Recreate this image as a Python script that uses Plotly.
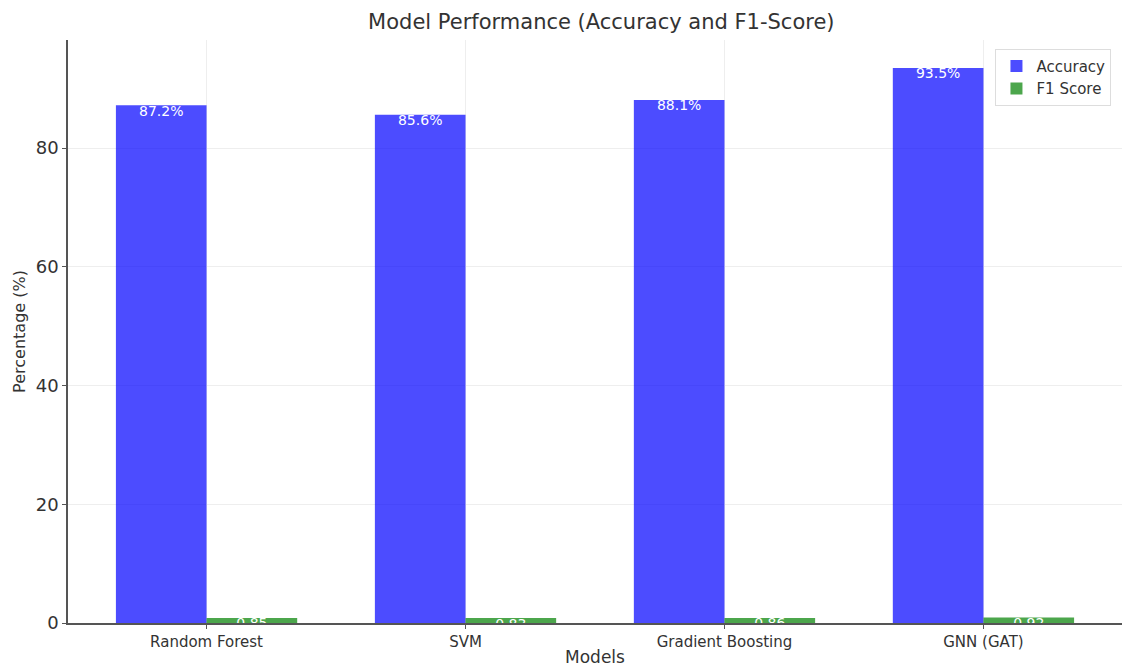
import plotly.graph_objects as go

models = ["Random Forest", "SVM", "Gradient Boosting", "GNN (GAT)"]
accuracy = [87.2, 85.6, 88.1, 93.5]
f1_score = [0.85, 0.83, 0.86, 0.92]
acc_labels = ["87.2%", "85.6%", "88.1%", "93.5%"]
f1_labels = ["0.85", "0.83", "0.86", "0.92"]
y_ticks = [0, 20, 40, 60, 80]

FONT = "DejaVu Sans"
xi = list(range(len(models)))
BAR_W = 0.35

fig = go.Figure()
fig.add_trace(go.Bar(x=xi, y=accuracy, name="Accuracy", marker_color="rgba(0,0,255,0.7)",
                     marker_line_width=0, offsetgroup="a"))
fig.add_trace(go.Bar(x=xi, y=f1_score, name="F1 Score", marker_color="rgba(0,128,0,0.7)",
                     marker_line_width=0, offsetgroup="b"))

fig.add_trace(go.Scatter(x=[i - BAR_W / 2 for i in xi], y=accuracy, text=acc_labels, mode="text",
                         textposition="bottom center", cliponaxis=True, showlegend=False,
                         hoverinfo="skip", textfont=dict(color="white", size=14, family=FONT)))
fig.add_trace(go.Scatter(x=[i + BAR_W / 2 for i in xi], y=f1_score, text=f1_labels, mode="text",
                         textposition="bottom center", cliponaxis=True, showlegend=False,
                         hoverinfo="skip", textfont=dict(color="white", size=14, family=FONT)))

fig.update_layout(
    autosize=True,
    margin=dict(l=68, r=2, t=40, b=44),
    paper_bgcolor="white", plot_bgcolor="white",
    barmode="group", bargap=0.3, bargroupgap=0,
    font=dict(family=FONT, color="#333333"),
    title=dict(text="Model Performance (Accuracy and F1-Score)", x=0.535, xanchor="center",
               y=0.967, yanchor="middle", font=dict(size=21, family=FONT, color="#333333")),
    legend=dict(x=0.99, y=0.985, xanchor="right", yanchor="top", bgcolor="rgba(255,255,255,0.8)",
                bordercolor="#dddddd", borderwidth=1, font=dict(size=15, family=FONT),
                tracegroupgap=0, itemsizing="constant"),
)
fig.update_xaxes(range=[-0.535, 3.535], tickvals=xi, ticktext=models, showgrid=True,
                 gridcolor="#eeeeee", showline=True, linecolor="#555555", linewidth=1.5,
                 ticks="outside", ticklen=4, tickcolor="#555555", tickfont=dict(size=15),
                 automargin=False,
                 title=dict(text="Models", font=dict(size=17), standoff=4))
fig.update_yaxes(range=[0, 98.2], tickvals=y_ticks, showgrid=True, gridcolor="#eeeeee",
                 showline=True, linecolor="#555555", linewidth=1.5, ticks="outside", ticklen=4,
                 tickcolor="#555555", tickfont=dict(size=18), zeroline=False, automargin=False,
                 title=dict(text="Percentage (%)", font=dict(size=16), standoff=6))

post = (
    "document.documentElement.style.height='100%';"
    "document.body.style.margin='0';document.body.style.height='100%';"
    "document.body.style.overflow='hidden';"
    "var gd=document.getElementById('{plot_id}');"
    "gd.style.width='100vw';gd.style.height='100vh';"
    "Plotly.Plots.resize(gd);"
)
fig.write_html("out.html", default_width="100%", default_height="100%",
               config={"responsive": True, "displayModeBar": False}, post_script=post)
